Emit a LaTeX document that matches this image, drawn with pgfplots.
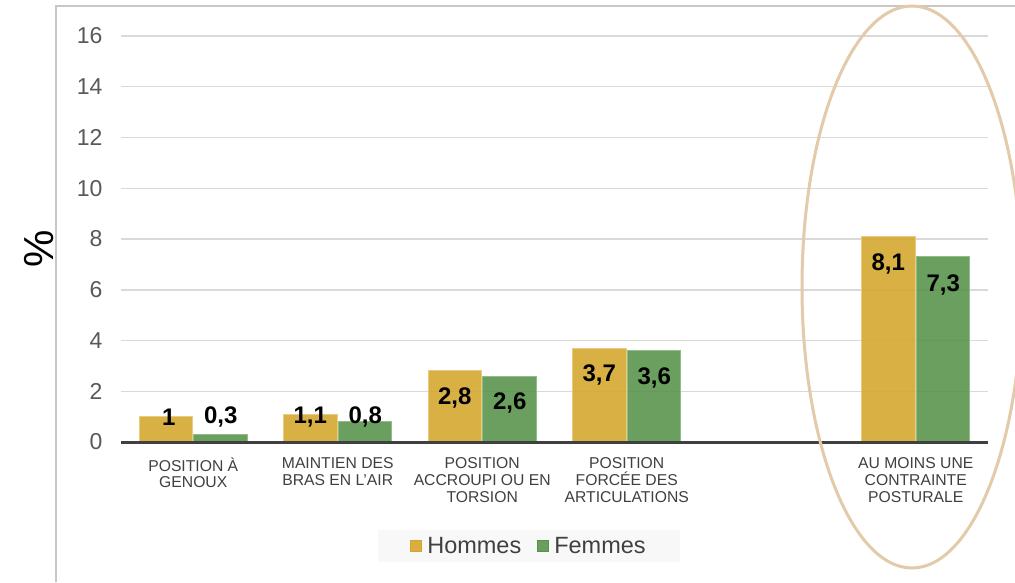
\documentclass[border=0pt]{standalone}
\usepackage{fontspec}
\setmainfont{Liberation Sans}
\usepackage{pgfplots}
\pgfplotsset{compat=1.18}
\definecolor{hom}{RGB}{212,166,42}
\definecolor{fem}{RGB}{87,146,73}
\definecolor{homE}{RGB}{232,204,130}
\definecolor{femE}{RGB}{145,190,135}
\definecolor{tickc}{RGB}{89,89,89}
\definecolor{catc}{RGB}{64,64,64}
\definecolor{gridc}{RGB}{217,217,217}
\definecolor{ell}{RGB}{226,202,170}
\definecolor{legbg}{RGB}{248,248,248}
\begin{document}
\begin{tikzpicture}
\path[use as bounding box] (0pt,0pt) rectangle (1015pt,582pt);
\fill[white] (0pt,0pt) rectangle (1015pt,582pt);
\draw[color=black!22, line width=1.5pt] (56pt,0pt) -- (56pt,576pt) -- (1015pt,576pt);
\begin{axis}[
  at={(121pt,140pt)}, anchor=south west,
  scale only axis, width=867pt, height=406pt,
  xmin=-0.5, xmax=5.5, ymin=0, ymax=16,
  clip=false,
  axis line style={draw=none},
  major tick length=0pt,
  ytick={0,2,...,16},
  ymajorgrids, grid style={gridc, line width=1.5pt},
  xtick={0,1,2,3,5},
  xticklabels={{POSITION À\\GENOUX},{MAINTIEN DES\\BRAS EN L'AIR},{POSITION\\ACCROUPI OU EN\\TORSION},{POSITION\\FORCÉE DES\\ARTICULATIONS},{AU MOINS UNE\\CONTRAINTE\\POSTURALE}},
  xticklabel style={align=center, font=\fontsize{15.7}{16.8}\selectfont, text=catc, anchor=north, yshift=-12pt},
  yticklabel style={font=\fontsize{23}{26}\selectfont, text=tickc, anchor=east, xshift=-15pt, /pgf/number format/assume math mode=true},
  legend style={at={(0.4706,-0.256)}, anchor=center, fill=legbg, draw=none, legend columns=2,
    font=\fontsize{23.5}{26}\selectfont, text=catc, inner xsep=32pt, inner ysep=5pt,
    /tikz/every odd column/.append style={column sep=3pt},
    /tikz/every even column/.append style={column sep=14pt}},
]
\addplot[ybar, bar width=0.37, bar shift=-0.19, fill=hom, fill opacity=0.88, draw=homE, line width=1pt,
  legend image code/.code={\fill[hom] (0pt,-5.5pt) rectangle (11pt,5.5pt);}]
  coordinates {(0,1) (1,1.1) (2,2.8) (3,3.7) (5,8.1)};
\addlegendentry{Hommes}
\addplot[ybar, bar width=0.37, bar shift=0.19, fill=fem, fill opacity=0.88, draw=femE, line width=1pt,
  legend image code/.code={\fill[fem] (0pt,-5.5pt) rectangle (11pt,5.5pt);}]
  coordinates {(0,0.3) (1,0.8) (2,2.6) (3,3.6) (5,7.3)};
\addlegendentry{Femmes}
\addplot[draw=none, mark=none, forget plot, nodes near coords, point meta=explicit symbolic,
  nodes near coords style={anchor=center, font=\bfseries\fontsize{24}{24}\selectfont, text=black}]
  coordinates {(-0.17,0.98)[{1}] (0.81,0.98)[{1,1}] (1.81,1.73)[{2,8}] (2.81,2.63)[{3,7}] (4.81,7.0)[{8,1}]};
\addplot[draw=none, mark=none, forget plot, nodes near coords, point meta=explicit symbolic,
  nodes near coords style={anchor=center, font=\bfseries\fontsize{24}{24}\selectfont, text=black}]
  coordinates {(0.19,0.98)[{0,3}] (1.19,0.98)[{0,8}] (2.19,1.53)[{2,6}] (3.19,2.53)[{3,6}] (5.19,6.2)[{7,3}]};
\draw[catc, line width=3pt] (axis cs:-0.5,0) -- (axis cs:5.5,0);
\end{axis}
\node[rotate=90, font=\fontsize{42}{42}\selectfont, text=black] at (39pt,333pt) {\%};
\draw[ell, line width=3pt] (912pt,295pt) ellipse [x radius=110pt, y radius=281pt];
\end{tikzpicture}
\end{document}
